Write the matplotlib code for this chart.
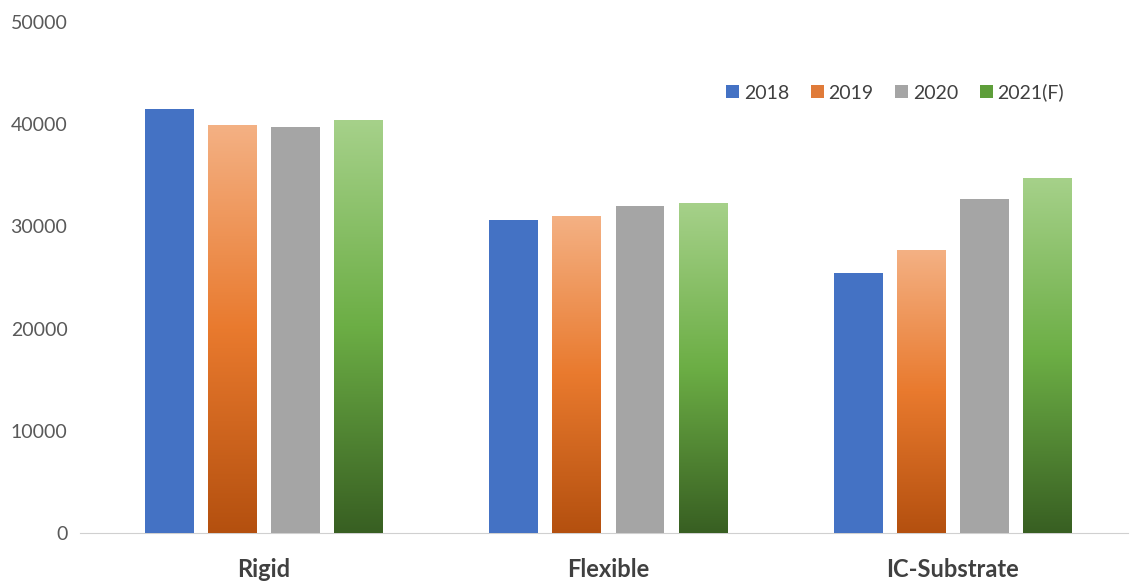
import numpy as np
import matplotlib
matplotlib.use('Agg')
import matplotlib.pyplot as plt
from matplotlib.colors import LinearSegmentedColormap
from matplotlib.patches import Patch

plt.rcParams['font.family'] = ['Lato', 'DejaVu Sans']

# 데이터
categories = ['Rigid', 'Flexible', 'IC-Substrate']
years = ['2018', '2019', '2020', '2021(F)']
v2018 = [41500, 30650, 25400]
v2019 = [39850, 31000, 27650]
v2020 = [39650, 31950, 32700]
v2021 = [40350, 32300, 34750]
series = [v2018, v2019, v2020, v2021]

# 스타일
colors = ['#4472C4', '#E07B39', '#A5A5A5', '#5E9E3A']
gradients = {
    1: ['#B4500F', '#E97A2E', '#F4B184'],
    3: ['#385F22', '#6CAE45', '#A6D18A'],
}
bar_w = 0.142
pitch = 0.183

fig = plt.figure(figsize=(11.33, 5.86), dpi=100)
ax = fig.add_axes([0.0706, 0.0896, 0.925, 0.8737])

x = np.arange(len(categories))
for i, vals in enumerate(series):
    off = (i - 1.5) * pitch
    bars = ax.bar(x + off, vals, width=bar_w, color=colors[i], zorder=2)
    if i in gradients:
        cmap = LinearSegmentedColormap.from_list('g%d' % i, gradients[i])
        grad = np.linspace(0, 1, 256).reshape(-1, 1)
        for b in bars:
            b.set_facecolor('none')
            x0, w, h = b.get_x(), b.get_width(), b.get_height()
            im = ax.imshow(grad, cmap=cmap, origin='lower', aspect='auto',
                           extent=[x0, x0 + w, 0, h], zorder=2)
            im.set_clip_path(b)

ax.set_xlim(-0.534, 2.508)
ax.set_ylim(0, 50000)
ax.set_yticks(np.arange(0, 50001, 10000))
ax.set_xticks(x)
ax.set_xticklabels(categories, fontsize=17, fontweight='bold', color='#404040')
ax.tick_params(axis='y', length=0, labelsize=14, labelcolor='#595959', pad=9)
ax.tick_params(axis='x', length=0, pad=18)
for s in ['top', 'right', 'left']:
    ax.spines[s].set_visible(False)
ax.spines['bottom'].set_color('#D0D0D0')
ax.spines['bottom'].set_zorder(1)

handles = [Patch(facecolor=c, label=y) for c, y in zip(colors, years)]
ax.legend(handles=handles, loc='center', bbox_to_anchor=(0.790, 0.842),
          bbox_transform=fig.transFigure, ncol=4, frameon=False,
          fontsize=14, labelcolor='#404040', handlelength=0.67, handleheight=0.67,
          handletextpad=0.25, columnspacing=1.1)

fig.savefig('out.png', dpi=100)
